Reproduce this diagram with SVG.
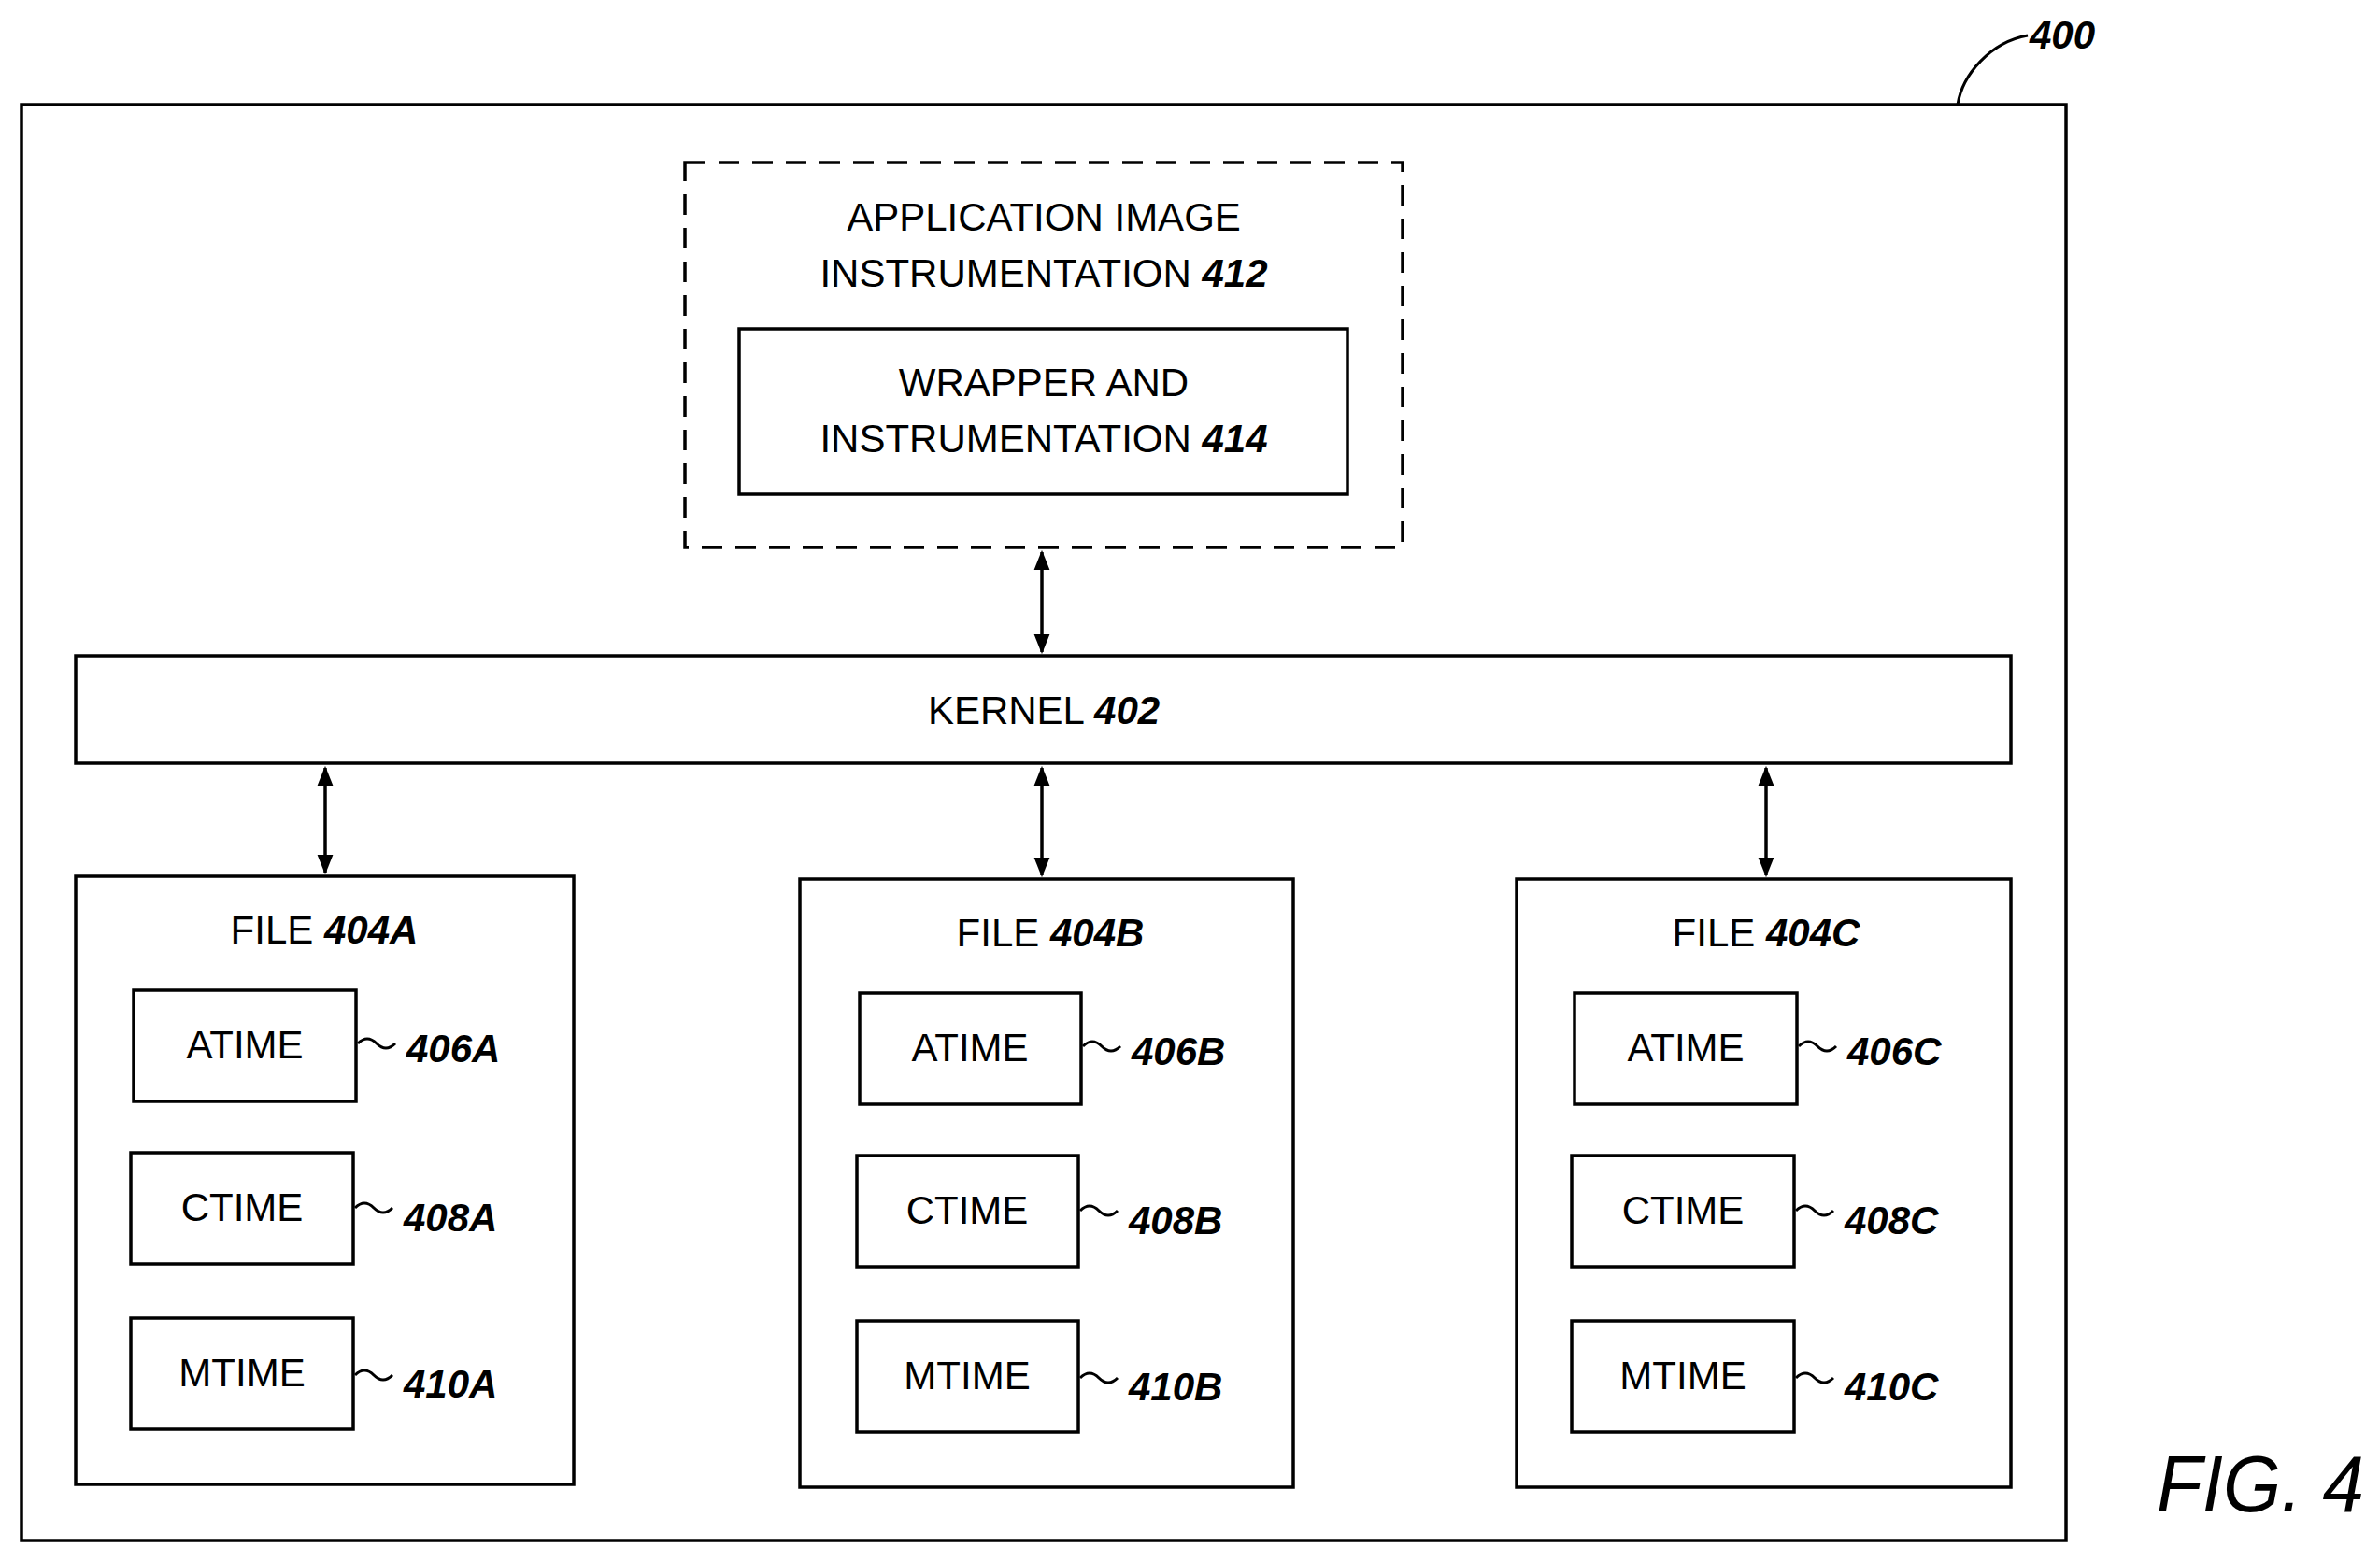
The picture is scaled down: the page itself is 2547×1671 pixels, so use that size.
<svg xmlns="http://www.w3.org/2000/svg" width="2547" height="1671" viewBox="0 0 2547 1671">
<style>
.b{fill:none;stroke:#000;stroke-width:3.5}
.t{font-family:"Liberation Sans",Arial,sans-serif;font-size:42px;fill:#000;text-anchor:middle}
.n{font-style:italic;font-weight:bold}
.r{font-family:"Liberation Sans",Arial,sans-serif;font-size:42px;font-style:italic;font-weight:bold}
.c{fill:none;stroke:#000;stroke-width:3}
</style>
<defs><marker id="a" viewBox="0 0 10 10" refX="9" refY="5" markerWidth="6" markerHeight="6" orient="auto-start-reverse" markerUnits="strokeWidth"><path d="M0,1 L10,5 L0,9 Z" fill="#000"/></marker></defs>
<rect width="2547" height="1671" fill="#fff"/>
<g id="n400"><rect class="b" x="23" y="112" width="2188" height="1537"/>
<path class="c" d="M2095,112 C2100,80 2130,45 2170,38"/><text class="r" x="2172" y="52">400</text></g>
<g id="n412"><rect class="b" x="733" y="174" width="768" height="412" stroke-dasharray="22,14"/>
<text class="t" x="1117" y="247">APPLICATION IMAGE</text><text class="t" x="1117" y="307">INSTRUMENTATION <tspan class="n">412</tspan></text></g>
<g id="n414"><rect class="b" x="791" y="352" width="651" height="177"/>
<text class="t" x="1117" y="424">WRAPPER AND</text><text class="t" x="1117" y="484">INSTRUMENTATION <tspan class="n">414</tspan></text></g>
<g id="n402"><rect class="b" x="81" y="702" width="2071" height="115"/><text class="t" x="1117" y="775">KERNEL <tspan class="n">402</tspan></text></g>
<g id="nA"><rect class="b" x="81" y="938" width="533" height="651"/><text class="t" x="347" y="1010">FILE <tspan class="n">404A</tspan></text>
<rect class="b" x="143" y="1060" width="238" height="119"/><text class="t" x="262" y="1133">ATIME</text>
<rect class="b" x="140" y="1234" width="238" height="119"/><text class="t" x="259" y="1307">CTIME</text>
<rect class="b" x="140" y="1411" width="238" height="119"/><text class="t" x="259" y="1484">MTIME</text>
<path class="c" d="M383,1117 q10,-10 20,0 t20,0"/><text class="r" x="435" y="1137">406A</text>
<path class="c" d="M380,1293 q10,-10 20,0 t20,0"/><text class="r" x="432" y="1318">408A</text>
<path class="c" d="M380,1472 q10,-10 20,0 t20,0"/><text class="r" x="432" y="1496">410A</text></g>
<g id="nB"><rect class="b" x="856" y="941" width="528" height="651"/><text class="t" x="1124" y="1013">FILE <tspan class="n">404B</tspan></text>
<rect class="b" x="920" y="1063" width="237" height="119"/><text class="t" x="1038" y="1136">ATIME</text>
<rect class="b" x="917" y="1237" width="237" height="119"/><text class="t" x="1035" y="1310">CTIME</text>
<rect class="b" x="917" y="1414" width="237" height="119"/><text class="t" x="1035" y="1487">MTIME</text>
<path class="c" d="M1159,1120 q10,-10 20,0 t20,0"/><text class="r" x="1211" y="1140">406B</text>
<path class="c" d="M1156,1296 q10,-10 20,0 t20,0"/><text class="r" x="1208" y="1321">408B</text>
<path class="c" d="M1156,1475 q10,-10 20,0 t20,0"/><text class="r" x="1208" y="1499">410B</text></g>
<g id="nC"><rect class="b" x="1623" y="941" width="529" height="651"/><text class="t" x="1890" y="1013">FILE <tspan class="n">404C</tspan></text>
<rect class="b" x="1685" y="1063" width="238" height="119"/><text class="t" x="1804" y="1136">ATIME</text>
<rect class="b" x="1682" y="1237" width="238" height="119"/><text class="t" x="1801" y="1310">CTIME</text>
<rect class="b" x="1682" y="1414" width="238" height="119"/><text class="t" x="1801" y="1487">MTIME</text>
<path class="c" d="M1925,1120 q10,-10 20,0 t20,0"/><text class="r" x="1977" y="1140">406C</text>
<path class="c" d="M1922,1296 q10,-10 20,0 t20,0"/><text class="r" x="1974" y="1321">408C</text>
<path class="c" d="M1922,1475 q10,-10 20,0 t20,0"/><text class="r" x="1974" y="1499">410C</text></g>
<g id="connectors" stroke="#000" stroke-width="3.5" marker-start="url(#a)" marker-end="url(#a)">
<line x1="1115" y1="591" x2="1115" y2="698"/>
<line x1="348" y1="822" x2="348" y2="934"/>
<line x1="1115" y1="822" x2="1115" y2="937"/>
<line x1="1890" y1="822" x2="1890" y2="937"/>
</g>
<text x="2308" y="1618" font-family="Liberation Sans,Arial,sans-serif" font-size="86" font-style="italic" textLength="222" lengthAdjust="spacingAndGlyphs">FIG. 4</text>
</svg>
